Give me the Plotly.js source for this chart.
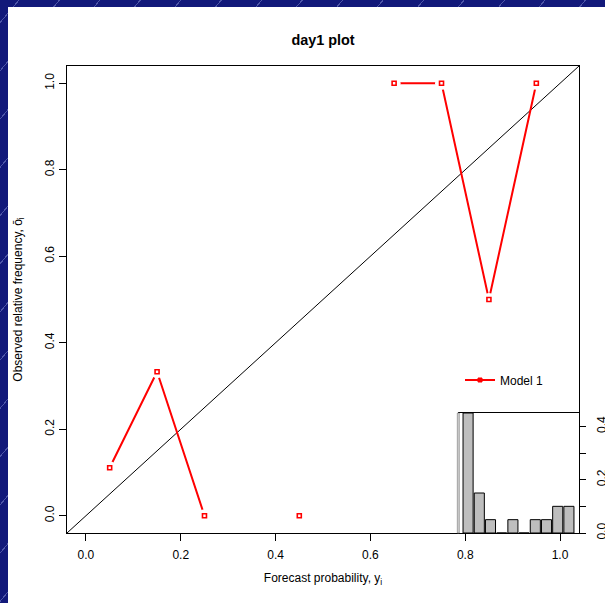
<!DOCTYPE html>
<html><head><meta charset="utf-8">
<script src="https://cdn.plot.ly/plotly-3.0.1.min.js"></script>
<style>
html,body{margin:0;padding:0;width:605px;height:603px;overflow:hidden;}
body{background-color:#12197a;background-image:repeating-linear-gradient(-50deg, rgba(255,255,255,0) 0px, rgba(255,255,255,0) 30px, rgba(190,200,255,0.35) 30px, rgba(190,200,255,0.35) 31px);}
#paper{position:absolute;left:8px;top:7px;width:597px;height:596px;background:#fff;}
#chart{position:absolute;left:0;top:0;width:605px;height:603px;}
</style></head><body>
<div id="paper"></div><div id="chart"></div>
<script>
// Forecast probability bin centres
const binCenters = [0.05, 0.15, 0.25, 0.35, 0.45, 0.55, 0.65, 0.75, 0.85, 0.95];
// Observed relative frequency per bin (null = empty bin)
const observedFreq = [0.111, 0.333, 0, null, 0, null, 1, 1, 0.5, 1];
// Relative frequency of forecasts in each bin (inset histogram)
const forecastShare = [0.45, 0.15, 0.05, 0, 0.05, 0, 0.05, 0.05, 0.1, 0.1];
// Perfect reliability line end points
const perfectLine = [-0.04, 1.04];
const xTickVals = [0, 0.2, 0.4, 0.6, 0.8, 1.0];
const xTickText = ['0.0', '0.2', '0.4', '0.6', '0.8', '1.0'];
const insetTickVals = [0, 0.2, 0.4];
const insetTickText = ['0.0', '0.2', '0.4'];
const insetMinorTicks = [0.1, 0.3];

const font = {family: 'Liberation Sans, Arial, sans-serif', color: '#000'};

const traces = [
  {x: binCenters, y: observedFreq, mode: 'lines+markers', name: 'Model 1',
   line: {color: '#ff0000', width: 2}, connectgaps: false,
   marker: {symbol: 'square', size: 4, color: '#ff0000', line: {color: '#ff0000', width: 1}},
   xaxis: 'x', yaxis: 'y', showlegend: true, hoverinfo: 'skip'},
  {x: binCenters, y: observedFreq, mode: 'markers', showlegend: false,
   marker: {symbol: 'circle', size: 13, color: '#ffffff', line: {width: 0}},
   xaxis: 'x', yaxis: 'y', hoverinfo: 'skip'},
  {x: binCenters, y: observedFreq, mode: 'markers', showlegend: false,
   marker: {symbol: 'square', size: 4, color: '#ffffff', line: {color: '#ff0000', width: 1.6}},
   xaxis: 'x', yaxis: 'y', hoverinfo: 'skip'},
  {x: binCenters, y: forecastShare, type: 'bar', width: 0.09, showlegend: false,
   marker: {color: '#bebebe', line: {color: '#000', width: 1}},
   xaxis: 'x2', yaxis: 'y2', hoverinfo: 'skip'}
];

const L = 67, R = 579, T = 66, B = 533;
const W = R - L, H = B - T;
const insetLeft = 458, insetTop = 413;

const layout = {
  width: 605, height: 603,
  margin: {l: L, r: 605 - R, t: T, b: 603 - B, pad: 0},
  paper_bgcolor: 'rgba(0,0,0,0)', plot_bgcolor: 'rgba(0,0,0,0)',
  font: Object.assign({size: 12}, font),
  showlegend: true,
  title: {text: '<b>day1 plot</b>', font: Object.assign({size: 14.4}, font),
          xref: 'paper', x: 0.5, xanchor: 'center', yref: 'container', y: 1 - 40/603, yanchor: 'middle'},
  xaxis: {domain: [0, 1], range: perfectLine, tickvals: xTickVals, ticktext: xTickText,
          ticks: 'outside', ticklen: 7, tickcolor: '#000', tickwidth: 1, ticklabelstandoff: 4,
          showline: true, mirror: true, linecolor: '#000', linewidth: 1,
          showgrid: false, zeroline: false, automargin: false,
          tickfont: Object.assign({size: 12}, font),
          title: {text: 'Forecast probability, y<sub>i</sub>', font: Object.assign({size: 12}, font), standoff: 12}},
  yaxis: {domain: [0, 1], range: perfectLine, tickvals: xTickVals, ticktext: xTickText,
          ticks: 'outside', ticklen: 7, tickcolor: '#000', tickwidth: 1, tickangle: -90,
          showline: true, mirror: true, linecolor: '#000', linewidth: 1,
          showgrid: false, zeroline: false, automargin: false,
          tickfont: Object.assign({size: 12}, font),
          title: {text: 'Observed relative frequency, ō<sub>i</sub>', font: Object.assign({size: 12}, font), standoff: 18}},
  xaxis2: {domain: [(insetLeft - L) / W, 1], anchor: 'y2', range: perfectLine,
           showticklabels: false, ticks: '', showgrid: false, zeroline: false,
           showline: true, mirror: true, linecolor: '#000', linewidth: 1, automargin: false},
  yaxis2: {domain: [0, (B - insetTop) / H], anchor: 'x2', side: 'right', range: [0, 0.45],
           tickvals: insetTickVals, ticktext: insetTickText, ticks: 'outside', ticklen: 6,
           minor: {tickvals: insetMinorTicks, ticks: 'outside', ticklen: 6, tickcolor: '#000', showgrid: false},
           ticklabelstandoff: 6,
           tickcolor: '#000', tickangle: -90, showgrid: false, zeroline: false,
           showline: true, linecolor: '#000', linewidth: 1, automargin: false,
           tickfont: Object.assign({size: 12}, font)},
  legend: {x: (460 - L) / W, y: (B - 380) / H, xanchor: 'left', yanchor: 'middle',
           bgcolor: 'rgba(0,0,0,0)', borderwidth: 0, font: Object.assign({size: 12}, font)},
  shapes: [
    {type: 'line', xref: 'x', yref: 'y', x0: perfectLine[0], y0: perfectLine[0], x1: perfectLine[1], y1: perfectLine[1],
     line: {color: '#000', width: 1}, layer: 'below'},
    {type: 'rect', xref: 'paper', yref: 'paper', x0: (457.3 - L) / W, x1: (459.3 - L) / W, y0: 0, y1: (B - insetTop) / H,
     fillcolor: '#d0d0d0', line: {color: '#777', width: 0.6}}
  ]
};

Plotly.newPlot('chart', traces, layout, {displayModeBar: false, staticPlot: true});
</script>
</body></html>
